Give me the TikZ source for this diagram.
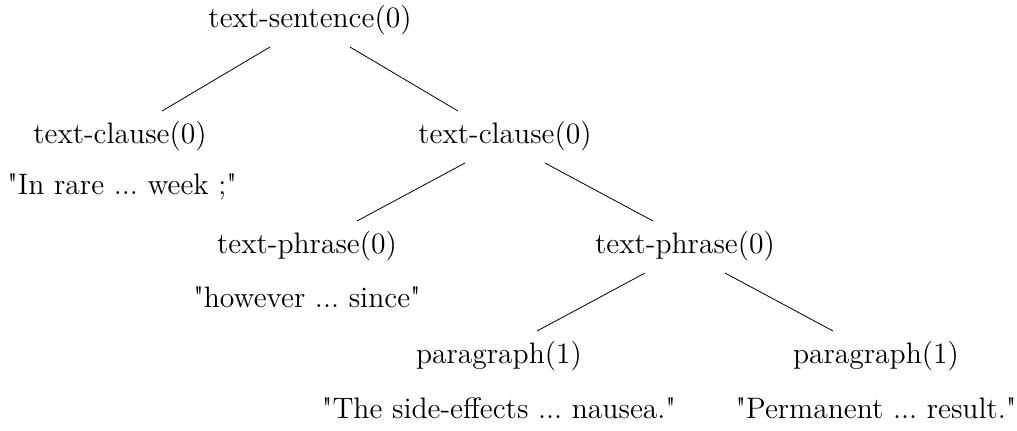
\documentclass[tikz,border=0pt]{standalone}
\usepackage{fontspec}
\newcommand{\qq}{\textquotedbl}
\begin{document}
\frenchspacing
\begin{tikzpicture}[x=0.5pt,y=-0.5pt,
  lbl/.style={inner sep=0pt,font=\fontsize{14.8}{18}\selectfont},
  leaf/.style={inner sep=0pt,font=\fontsize{14.8}{18}\selectfont},
  edge/.style={draw=black,line width=0.4pt}]
\useasboundingbox (0,0) rectangle (1017,430);
\node[lbl] (A) at (310,20) {text-sentence(0)};
\node[lbl] (B) at (120,136) {text-clause(0)};
\node[leaf,anchor=west] (Bt) at (7,187) {\qq In rare ... week ;\qq};
\node[lbl] (C) at (505,136) {text-clause(0)};
\node[lbl] (D) at (307,246) {text-phrase(0)};
\node[leaf] (Dt) at ([shift={(0,51)}]D.center) {\qq however ... since\qq};
\node[lbl] (E) at (685,246) {text-phrase(0)};
\node[lbl] (F) at (499,356) {paragraph(1)};
\node[leaf] (Ft) at ([shift={(0,52)}]F.center) {\qq The side-effects ... nausea.\qq};
\node[lbl] (G) at (876,356) {paragraph(1)};
\node[leaf] (Gt) at ([shift={(0,52)}]G.center) {\qq Permanent ... result.\qq};
\draw[edge] ([shift={(-40,27)}]A.center) -- ([shift={(42,-25)}]B.center);
\draw[edge] ([shift={(40,27)}]A.center) -- ([shift={(-47,-25)}]C.center);
\draw[edge] ([shift={(-40,27)}]C.center) -- ([shift={(50,-25)}]D.center);
\draw[edge] ([shift={(40,27)}]C.center) -- ([shift={(-32,-25)}]E.center);
\draw[edge] ([shift={(-40,27)}]E.center) -- ([shift={(38,-25)}]F.center);
\draw[edge] ([shift={(40,27)}]E.center) -- ([shift={(-43,-25)}]G.center);
\end{tikzpicture}
\end{document}
